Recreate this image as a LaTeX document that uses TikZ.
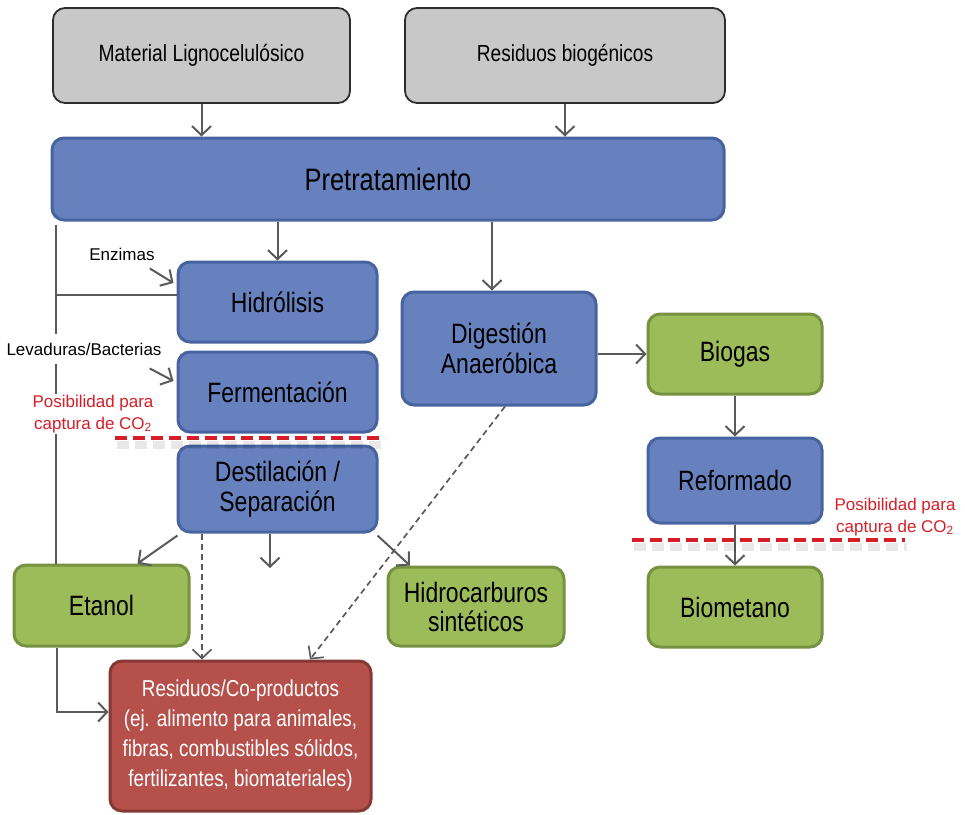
\documentclass[tikz,border=0pt]{standalone}
\usepackage{fontspec}
\setmainfont{Liberation Sans}
\newfontfamily\boxfont{Liberation Sans}[FakeStretch=0.82]
\usetikzlibrary{arrows.meta,calc}

\definecolor{grayfill}{RGB}{200,200,200}
\definecolor{grayedge}{RGB}{45,45,45}
\definecolor{bluefill}{RGB}{103,129,191}
\definecolor{blueedge}{RGB}{72,100,160}
\definecolor{greenfill}{RGB}{156,187,89}
\definecolor{greenedge}{RGB}{118,145,64}
\definecolor{redfill}{RGB}{181,80,75}
\definecolor{rededge}{RGB}{135,56,52}
\definecolor{linegray}{RGB}{90,90,90}
\definecolor{capred}{RGB}{215,30,40}

\tikzset{
  box/.style={rounded corners=12pt, line width=3pt, align=center, inner sep=2pt},
  graybox/.style={box, fill=grayfill, draw=grayedge, line width=1.8pt,
    font=\boxfont\fontsize{23.5}{26}\selectfont},
  bluebox/.style={box, fill=bluefill, draw=blueedge,
    font=\boxfont\fontsize{28}{30}\selectfont},
  greenbox/.style={box, fill=greenfill, draw=greenedge,
    font=\boxfont\fontsize{28}{29}\selectfont},
  redbox/.style={box, fill=redfill, draw=rededge, text=white,
    font=\boxfont\fontsize{23}{30}\selectfont},
  arr/.style={draw=linegray, line width=2pt,
    -{Straight Barb[length=9pt,width=19pt]}},
  dasharr/.style={arr, line width=1.7pt, dash pattern=on 6pt off 4pt},
  plainline/.style={draw=linegray, line width=2pt},
  smalllabel/.style={font=\fontsize{17}{20}\selectfont, inner sep=1pt},
  caplabel/.style={font=\fontsize{17}{22}\selectfont, text=capred,
    align=center, inner sep=1pt},
  capline/.style={draw=capred, line width=4pt, dash pattern=on 12pt off 6pt},
  capshadow/.style={draw=black, opacity=0.09, line width=8pt,
    dash pattern=on 12pt off 6pt},
}

\begin{document}
\begin{tikzpicture}[x=1pt,y=-1pt]
\useasboundingbox (0,0) rectangle (965,814);

% feedstocks
\node[graybox, minimum width=297pt, minimum height=95pt] (mat) at (201.5,55.5) {Material Lignocelulósico};
\node[graybox, minimum width=320pt, minimum height=95pt, font=\boxfont\fontsize{23.3}{26}\selectfont] (res) at (565,55.5) {Residuos biogénicos};

% process steps
\node[bluebox, minimum width=672pt, minimum height=82pt, font=\boxfont\fontsize{31}{34}\selectfont] (pre) at (388,179) {Pretratamiento};
\node[bluebox, minimum width=199pt, minimum height=80pt] (hid) at (277.5,302) {Hidrólisis};
\node[bluebox, minimum width=199pt, minimum height=80pt] (fer) at (277.5,392) {Fermentación};
\node[bluebox, minimum width=199pt, minimum height=86pt] (des) at (277.5,489) {Destilación /\\Separación};
\node[bluebox, minimum width=194pt, minimum height=113pt] (dig) at (499,348.5) {Digestión\\Anaeróbica};
\node[bluebox, minimum width=174pt, minimum height=85pt] (ref) at (735,480.5) {Reformado};

% products
\node[greenbox, minimum width=174pt, minimum height=80pt] (bio) at (735,354) {Biogas};
\node[greenbox, minimum width=174pt, minimum height=80pt] (bmet) at (735,607) {Biometano};
\node[greenbox, minimum width=175pt, minimum height=81pt] (eta) at (101.5,605.5) {Etanol};
\node[greenbox, minimum width=176pt, minimum height=79pt] (hc) at (476,606.5) {Hidrocarburos\\sintéticos};
\node[redbox, minimum width=261pt, minimum height=150pt] (rco) at (240.5,736) {Residuos/Co-productos\\(ej. alimento para animales,\\fibras, combustibles sólidos,\\fertilizantes, biomateriales)};

% free end of the short arrow below the distillation step
\coordinate (dout) at (270,568);

% main flow
\draw[arr] (mat.south) -- (mat.south |- pre.north);
\draw[arr] (res.south) -- (res.south |- pre.north);
\draw[arr] (hid.north |- pre.south) -- (hid.north);
\draw[arr] ([xshift=-7pt]dig.north |- pre.south) -- ([xshift=-7pt]dig.north);
\draw[arr] (dig.east |- bio.west) -- (bio.west);
\draw[arr] (bio.south) -- (ref.north);
\draw[arr] (ref.south) -- (bmet.north);

% bypass line on the left
\draw[plainline] ([xshift=5pt,yshift=-3pt]pre.south west) -- ([xshift=5pt]pre.south west |- eta.north);
\draw[plainline] ([xshift=5pt]pre.south west |- hid.west) ++(0,-7) -- ([yshift=7pt]hid.west);
\draw[arr] ([xshift=-44.5pt]eta.south) |- ([yshift=24pt]rco.west);

% outputs of distillation
\draw[arr] ([xshift=1pt,yshift=-2pt]des.south west) -- ([xshift=36pt]eta.north);
\draw[dasharr] ([xshift=-75.5pt]des.south) -- ([xshift=-75.5pt]des.south |- rco.north);
\draw[arr] ([xshift=-7.5pt]des.south) -- (dout);
\draw[arr] ([xshift=-1pt,yshift=-2pt]des.south east) -- ([xshift=-66pt]hc.north);
\draw[dasharr] ([xshift=6pt]dig.south) -- ([xshift=69.5pt]rco.north);

% inputs with labels
\node[smalllabel] (enz) at (122,254) {Enzimas};
\draw[arr] ([xshift=-6pt,yshift=-7pt]enz.south east) -- ([xshift=-3pt,yshift=19pt]hid.west);
\node[smalllabel, fill=white, inner ysep=9pt, inner xsep=2pt] (lev) at (84,349) {Levaduras/Bacterias};
\draw[arr] ([xshift=-14pt,yshift=-4pt]lev.south east) -- ([xshift=-3pt,yshift=11pt]fer.west);

% CO2 capture points
\node[caplabel, fill=white] (capl) at (93,414) {Posibilidad para\\captura de CO\textsubscript{2}};
\node[caplabel] (capr) at (895,517) {Posibilidad para\\captura de CO\textsubscript{2}};
\draw[capshadow] (117,445) -- (387,445);
\draw[capline] (115,438) -- (385,438);
\draw[capshadow] (634,547) -- (907,547);
\draw[capline] (632,540) -- (905,540);

\end{tikzpicture}
\end{document}
